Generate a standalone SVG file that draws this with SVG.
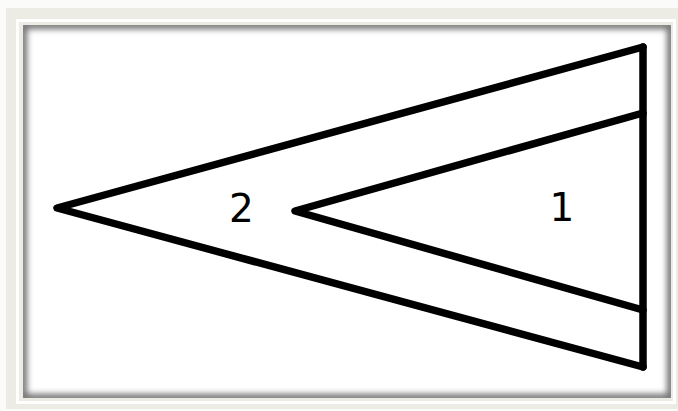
<svg xmlns="http://www.w3.org/2000/svg" width="678" height="411" viewBox="0 0 678 411">
  <style>
    .frame-outer { fill: #ECEBE4; }
    .edge { fill: none; stroke: #000; stroke-width: 7.5; stroke-linejoin: round; stroke-linecap: round; }
    .label { font-family: "DejaVu Sans", "Liberation Sans", sans-serif; font-size: 39px; fill: #000; text-anchor: middle; }
  </style>
  <defs>
    <clipPath id="innerClip">
      <rect x="23" y="25" width="648" height="373"/>
    </clipPath>
    <filter id="blur" x="-5%" y="-5%" width="110%" height="110%">
      <feGaussianBlur stdDeviation="3"/>
    </filter>
  </defs>
  <rect x="0" y="0" width="678" height="411" fill="#FBFBFA"/>
  <g id="frame">
    <rect class="frame-outer" x="6" y="8" width="672" height="401"/>
    <rect x="17.5" y="20.5" width="657" height="382" fill="none" stroke="#FFFFFF" stroke-width="3"/>
    <rect x="23" y="25" width="648" height="373" fill="#FFFFFF"/>
    <g clip-path="url(#innerClip)">
      <rect x="23" y="25" width="648" height="373" fill="none" stroke="#6E6E6E" stroke-width="8" filter="url(#blur)"/>
    </g>
  </g>
  <g id="connectors">
    <polyline class="edge" points="643,47 57,208 643,367"/>
    <line class="edge" x1="643" y1="47" x2="643" y2="367"/>
    <polyline class="edge" points="643,113 295,211 643,310"/>
  </g>
  <g id="region-2">
    <text class="label" x="241.5" y="222">2</text>
  </g>
  <g id="region-1">
    <text class="label" x="562" y="221">1</text>
  </g>
</svg>
